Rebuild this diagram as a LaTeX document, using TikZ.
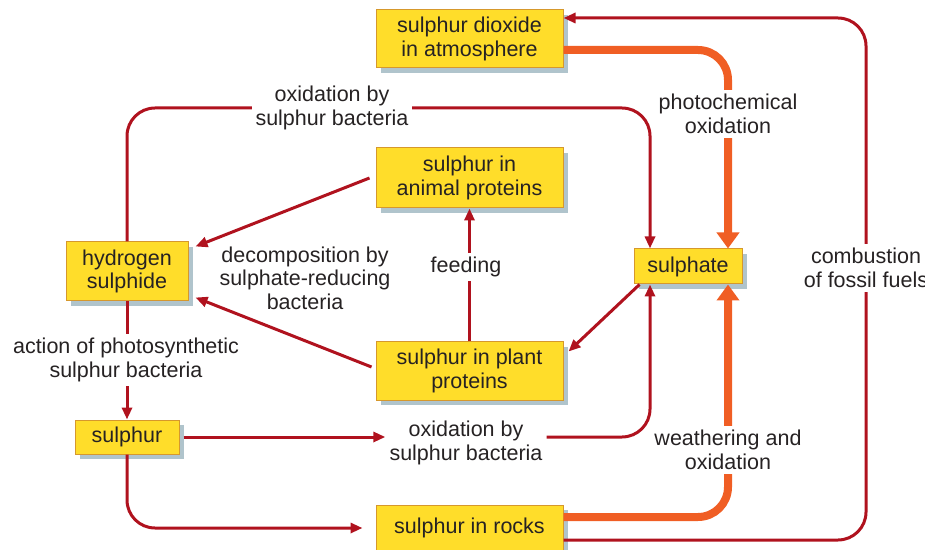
\documentclass[tikz,border=0pt]{standalone}
\usepackage{fontspec}
\setmainfont{Liberation Sans}
\usepackage{tikz}
\usetikzlibrary{positioning, calc, shadows, arrows.meta}
\usepackage{xcolor}

\definecolor{boxfill}{RGB}{255,221,42}
\definecolor{boxedge}{RGB}{214,152,44}
\definecolor{shadowc}{RGB}{176,196,204}
\definecolor{redc}{RGB}{176,18,30}
\definecolor{orangec}{RGB}{240,94,36}
\definecolor{textc}{RGB}{38,34,35}

\begin{document}
\begin{tikzpicture}[
  x=1pt, y=1pt,
  every node/.style={text=textc, font=\fontsize{21.5}{23.5}\selectfont},
  cycbox/.style={rectangle, draw=boxedge, line width=1pt, fill=boxfill, align=center, inner sep=0pt,
    drop shadow={shadow xshift=5pt, shadow yshift=-5pt, fill=shadowc, opacity=1}},
  widebox/.style={cycbox, minimum width=187pt},
  lbl/.style={fill=white, align=center, inner sep=4pt},
  redarrow/.style={draw=redc, line width=3pt, -{Triangle[width=10pt,length=12pt]}},
  orangearrow/.style={draw=orangec, line width=8pt, -{Triangle[width=22pt,length=16pt]}}
]
    \useasboundingbox (0,0) rectangle (925,549);

    % Compartments
    \node[widebox, minimum height=58pt] (dioxide) at (469.5,510) {sulphur dioxide\\in atmosphere};
    \node[widebox, minimum height=60pt] (animal) at (469.5,371) {sulphur in\\animal proteins};
    \node[cycbox, minimum width=122pt, minimum height=59pt] (hydrogen) at (127,277.5) {hydrogen\\sulphide};
    \node[cycbox, minimum width=108pt, minimum height=35pt] (sulphate) at (688,282.5) {sulphate};
    \node[widebox, minimum height=58pt] (plant) at (469.5,178) {sulphur in plant\\proteins};
    \node[cycbox, minimum width=104pt, minimum height=34pt] (sulphur) at (127,112) {sulphur};
    \node[widebox, minimum height=46pt] (rocks) at (469.5,21) {sulphur in rocks};

    % Points where the labels sit on the lines
    \coordinate (fuelc) at (866,281);
    \coordinate (oxtopc) at (332,441);

    % Orange paths
    \draw[orangearrow, rounded corners=30pt] ([yshift=-11pt]dioxide.east) -| ([xshift=40pt]sulphate.north);
    \draw[orangearrow, rounded corners=30pt] ([yshift=11pt]rocks.east) -| ([xshift=40pt]sulphate.south);

    % Red paths
    \draw[redarrow, rounded corners=28pt] ([yshift=-12pt]rocks.east) -| (fuelc) |- ([yshift=21pt]dioxide.east);
    \draw[redarrow, rounded corners=28pt] (hydrogen.north) |- (oxtopc) -| ([xshift=-38pt]sulphate.north);
    \draw[redarrow] (hydrogen) -- (sulphur);
    \draw[redarrow, rounded corners=28pt, shorten >=13pt] (sulphur.south) |- (rocks.west);

    \node[lbl] (oxlow) at (466,106) {oxidation by\\sulphur bacteria};
    \draw[redarrow] ([xshift=4pt]sulphur.east) -- (sulphur.east -| oxlow.west);
    \draw[redarrow, rounded corners=28pt] (sulphur.east -| oxlow.east) -| ([xshift=-38pt]sulphate.south);

    \draw[redarrow] ([xshift=6pt]sulphate.south west) -- ([xshift=5pt,yshift=-10pt]plant.north east);
    \draw[redarrow] ([xshift=-6pt]animal.west) -- ([xshift=7pt,yshift=-5pt]hydrogen.north east);
    \draw[redarrow] ([xshift=-4pt,yshift=4pt]plant.west) -- ([xshift=7pt,yshift=4pt]hydrogen.south east);
    \draw[redarrow] (plant) -- (animal);

    % Labels
    \node[lbl] (photo) at (728,435) {photochemical\\oxidation};
    \node[lbl] (weather) at (728,99) {weathering and\\oxidation};
    \node[lbl] (fuels) at (fuelc) {combustion\\of fossil fuels};
    \node[lbl] (oxtop) at (oxtopc) {oxidation by\\sulphur bacteria};
    \node[lbl] (photosyn) at (126,189) {action of photosynthetic\\sulphur bacteria};
    \node[align=center] (decomp) at (305,271) {decomposition by\\sulphate-reducing\\bacteria};
    \node[lbl] (feeding) at (466,282) {feeding};

\end{tikzpicture}
\end{document}
